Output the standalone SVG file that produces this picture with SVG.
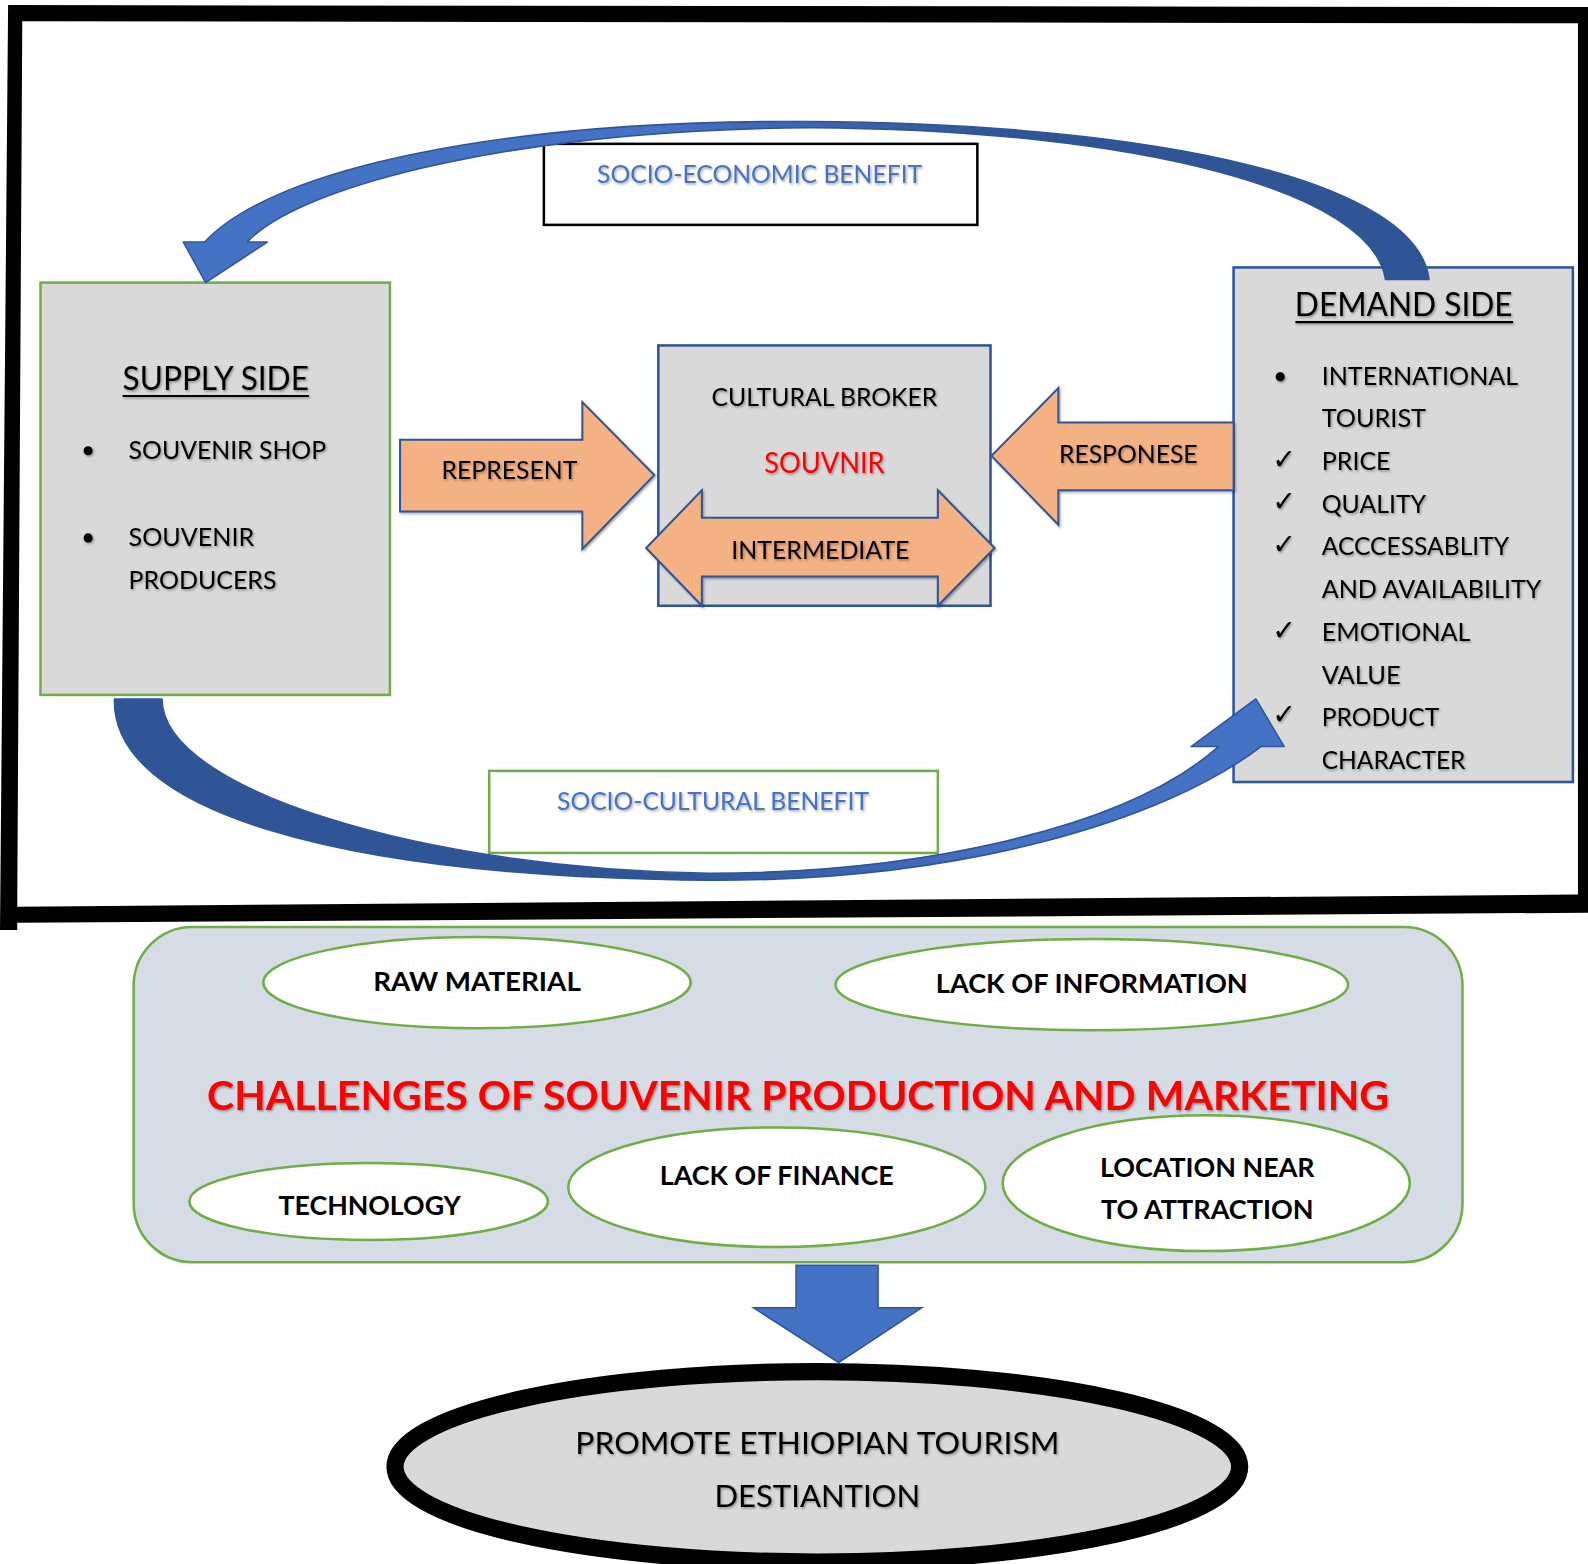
<svg xmlns="http://www.w3.org/2000/svg" width="1588" height="1564" viewBox="0 0 1588 1564">
<defs>
<style>
.t{font-family:Lato,"Open Sans","Liberation Sans",sans-serif;fill:#000}
.s24{font-size:24px}
.s26{font-size:26px}
.s28{font-size:28px}
.s31{font-size:31px}
.s32{font-size:32px}
.s40{font-size:40px}
.c{text-anchor:middle}
.b{font-weight:bold}
.bl{fill:#4472c4}
.red{fill:#ff0000}
.gbox{fill:#d9d9d9;stroke:#70ad47;stroke-width:2.5}
.bbox{fill:#d9d9d9;stroke:#2f5597;stroke-width:2.5}
.oarrow{fill:#f4b183;stroke:#2f5597;stroke-width:2}
.ell{fill:#ffffff;stroke:#70ad47;stroke-width:2.5}
.chk{font-family:"DejaVu Sans",sans-serif;font-size:28px;text-anchor:middle;fill:#000}
.ul{stroke:#000;stroke-width:2}
</style>
<filter id="sh" x="-10%" y="-30%" width="120%" height="160%">
<feDropShadow dx="1.2" dy="1.5" stdDeviation="0.9" flood-color="#000" flood-opacity="0.35"/>
</filter>
<linearGradient id="gTop" gradientUnits="userSpaceOnUse" x1="1000" y1="0" x2="650" y2="0">
<stop offset="0" stop-color="#2f5597"/><stop offset="1" stop-color="#4472c4"/>
</linearGradient>
<linearGradient id="gBot" gradientUnits="userSpaceOnUse" x1="650" y1="0" x2="1000" y2="0">
<stop offset="0" stop-color="#2f5597"/><stop offset="1" stop-color="#4472c4"/>
</linearGradient>
</defs>
<rect width="1588" height="1564" fill="#ffffff"/>
<g transform="scale(1.0128,1.013)">

<g id="frame">
<path fill="#000" fill-rule="evenodd" d="M8,5 L1568,7 L1568,901 L17,911 L17,918 L0,918 Z M22,21 L1558,23 L1558,883 L17,895 Z"/>
</g>

<g id="supply-side">
<rect class="gbox" x="40" y="279" width="345" height="407"/>
<g filter="url(#sh)">
<text class="t s32 c" x="213" y="385" textLength="184" lengthAdjust="spacingAndGlyphs">SUPPLY SIDE</text>
<line class="ul" x1="121" y1="391" x2="305" y2="391"/>
<circle cx="87" cy="445" r="4.5"/>
<text class="t s24" x="127" y="453" textLength="195" lengthAdjust="spacingAndGlyphs">SOUVENIR SHOP</text>
<circle cx="87" cy="531" r="4.5"/>
<text class="t s24" x="127" y="539" textLength="124" lengthAdjust="spacingAndGlyphs">SOUVENIR</text>
<text class="t s24" x="127" y="581" textLength="146" lengthAdjust="spacingAndGlyphs">PRODUCERS</text>
</g>
</g>

<g id="cultural-broker">
<rect class="bbox" x="650" y="341" width="328" height="257"/>
<g filter="url(#sh)">
<text class="t s24 c" x="814" y="401" textLength="223" lengthAdjust="spacingAndGlyphs">CULTURAL BROKER</text>
<text class="t s28 c red" x="814" y="467" textLength="119" lengthAdjust="spacingAndGlyphs">SOUVNIR</text>
</g>
</g>

<g id="demand-side">
<rect class="bbox" x="1218" y="264" width="335" height="508"/>
<g filter="url(#sh)">
<text class="t s32 c" x="1386" y="312" textLength="215" lengthAdjust="spacingAndGlyphs">DEMAND SIDE</text>
<line class="ul" x1="1279" y1="318" x2="1494" y2="318"/>
<circle cx="1264" cy="372" r="4.5"/>
<text class="t s24" x="1305" y="380" textLength="194" lengthAdjust="spacingAndGlyphs">INTERNATIONAL</text>
<text class="t s24" x="1305" y="422" textLength="103" lengthAdjust="spacingAndGlyphs">TOURIST</text>
<text class="chk" x="1268" y="463">✓</text>
<text class="t s24" x="1305" y="464" textLength="68" lengthAdjust="spacingAndGlyphs">PRICE</text>
<text class="chk" x="1268" y="504">✓</text>
<text class="t s24" x="1305" y="506" textLength="103" lengthAdjust="spacingAndGlyphs">QUALITY</text>
<text class="chk" x="1268" y="547">✓</text>
<text class="t s24" x="1305" y="548" textLength="185" lengthAdjust="spacingAndGlyphs">ACCCESSABLITY</text>
<text class="t s24" x="1305" y="590" textLength="217" lengthAdjust="spacingAndGlyphs">AND AVAILABILITY</text>
<text class="chk" x="1268" y="632">✓</text>
<text class="t s24" x="1305" y="633" textLength="147" lengthAdjust="spacingAndGlyphs">EMOTIONAL</text>
<text class="t s24" x="1305" y="675" textLength="78" lengthAdjust="spacingAndGlyphs">VALUE</text>
<text class="chk" x="1268" y="715">✓</text>
<text class="t s24" x="1305" y="717" textLength="116" lengthAdjust="spacingAndGlyphs">PRODUCT</text>
<text class="t s24" x="1305" y="759" textLength="142" lengthAdjust="spacingAndGlyphs">CHARACTER</text>
</g>
</g>

<g id="socio-economic-benefit">
<rect x="537" y="142" width="428" height="80" fill="#fff" stroke="#000" stroke-width="2.5"/>
<text class="t s24 c bl" x="750" y="181" filter="url(#sh)" textLength="321" lengthAdjust="spacingAndGlyphs">SOCIO-ECONOMIC BENEFIT</text>
</g>

<g id="socio-cultural-benefit">
<rect x="483" y="761" width="443" height="81" fill="#fff" stroke="#70ad47" stroke-width="2.5"/>
<text class="t s24 c bl" x="704" y="800" filter="url(#sh)" textLength="308" lengthAdjust="spacingAndGlyphs">SOCIO-CULTURAL BENEFIT</text>
</g>

<g id="challenges">
<rect x="132" y="915" width="1312" height="331" rx="58" ry="58" fill="#d6dce5" stroke="#70ad47" stroke-width="2.5"/>
<text class="t s40 c b red" x="788" y="1096" filter="url(#sh)" textLength="1167" lengthAdjust="spacingAndGlyphs">CHALLENGES OF SOUVENIR PRODUCTION AND MARKETING</text>
</g>
<g id="raw-material">
<ellipse class="ell" cx="471" cy="970" rx="211" ry="45"/>
<text class="t s26 c b" x="471" y="978" textLength="205" lengthAdjust="spacingAndGlyphs">RAW MATERIAL</text>
</g>
<g id="lack-of-information">
<ellipse class="ell" cx="1078" cy="972" rx="253" ry="45"/>
<text class="t s26 c b" x="1078" y="980" textLength="308" lengthAdjust="spacingAndGlyphs">LACK OF INFORMATION</text>
</g>
<g id="technology">
<ellipse class="ell" cx="364" cy="1186" rx="177" ry="38"/>
<text class="t s26 c b" x="365" y="1199" textLength="180" lengthAdjust="spacingAndGlyphs">TECHNOLOGY</text>
</g>
<g id="lack-of-finance">
<ellipse class="ell" cx="767" cy="1172" rx="206" ry="59"/>
<text class="t s26 c b" x="767" y="1170" textLength="231" lengthAdjust="spacingAndGlyphs">LACK OF FINANCE</text>
</g>
<g id="location-near-attraction">
<ellipse class="ell" cx="1191" cy="1168" rx="201" ry="67"/>
<text class="t s26 c b" x="1192" y="1162" textLength="212" lengthAdjust="spacingAndGlyphs">LOCATION NEAR</text>
<text class="t s26 c b" x="1192" y="1203" textLength="210" lengthAdjust="spacingAndGlyphs">TO ATTRACTION</text>
</g>

<g id="promote-destination">
<ellipse cx="807" cy="1448" rx="417" ry="94" fill="#d9d9d9" stroke="#000" stroke-width="17"/>
<g filter="url(#sh)">
<text class="t s31 c" x="807" y="1435" textLength="478" lengthAdjust="spacingAndGlyphs">PROMOTE ETHIOPIAN TOURISM</text>
<text class="t s31 c" x="807" y="1488" textLength="203" lengthAdjust="spacingAndGlyphs">DESTIANTION</text>
</g>
</g>

<g id="connectors">
<path fill="url(#gTop)" stroke="#2f5597" stroke-width="1.5" stroke-linejoin="round" d="M1411,276 C1400,180 1150,122 800,120 C500,118 270,165 202,239 L181,239 L203,279 L264,239 L244,239 C300,180 520,128 800,126 C1130,128 1355,190 1368,276 Z"/>
<path fill="url(#gBot)" stroke="#2f5597" stroke-width="1.5" stroke-linejoin="round" d="M113,690 C110,800 330,866 700,869 C950,870 1150,810 1245,737 L1268,737 L1240,690 L1176,737 L1203,737 C1110,820 900,862 700,862 C420,858 160,780 160,690 Z"/>
<g filter="url(#sh)">
<path class="oarrow" d="M395,434 L575,434 L575,397 L646,469 L575,542 L575,505 L395,505 Z"/>
<path class="oarrow" d="M1218,417 L1045,417 L1045,383 L979,450 L1045,518 L1045,484 L1218,484 Z"/>
<path class="oarrow" d="M638,541 L693,484 L693,511 L926,511 L926,484 L982,541 L926,598 L926,569 L693,569 L693,598 Z"/>
</g>
<g filter="url(#sh)">
<text class="t s24 c" x="503" y="473" textLength="134" lengthAdjust="spacingAndGlyphs">REPRESENT</text>
<text class="t s24 c" x="1114" y="457" textLength="137" lengthAdjust="spacingAndGlyphs">RESPONESE</text>
<text class="t s24 c" x="810" y="552" textLength="176" lengthAdjust="spacingAndGlyphs">INTERMEDIATE</text>
</g>
<path fill="#4472c4" stroke="#2f5597" stroke-width="1.5" d="M786,1249 L867,1249 L867,1291 L910,1291 L828,1345 L744,1291 L786,1291 Z"/>
</g>

</g>
</svg>
